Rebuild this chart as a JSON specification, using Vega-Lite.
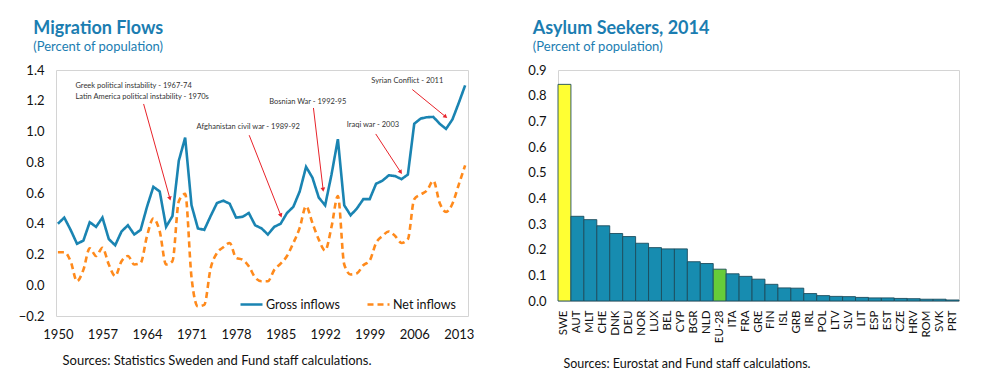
{
  "$schema": "https://vega.github.io/schema/vega-lite/v6.json",
  "padding": {"left": 17, "top": 19, "right": 5, "bottom": 5},
  "background": "white",
  "spacing": 52,
  "resolve": {"scale": {"color": "independent", "strokeDash": "independent"}, "legend": {"color": "independent"}},
  "config": {
    "font": "Lato",
    "view": {"stroke": "#d4d4d4", "strokeWidth": 1},
    "axis": {"labelFont": "Lato", "labelFontSize": 13, "labelColor": "#111", "titleFont": "Lato", "titleFontWeight": "normal", "titleColor": "#111", "grid": false, "ticks": false, "domain": false},
    "title": {"font": "Lato", "anchor": "start", "color": "#1b7db1", "fontSize": 18, "fontWeight": "bold", "subtitleFont": "Lato", "subtitleFontSize": 13, "subtitleColor": "#1b7db1", "subtitlePadding": 3, "offset": 10}
  },
  "hconcat": [
    {
      "width": 412,
      "height": 246,
      "title": {"text": "Migration Flows", "subtitle": "(Percent of population)", "dx": 15},
      "layer": [
        {
          "mark": {"type": "rule", "color": "#b0b0b0", "strokeWidth": 1},
          "encoding": {"y": {"datum": 0, "type": "quantitative", "scale": {"domain": [-0.2, 1.4], "nice": false, "zero": false}}}
        },
        {
          "data": {"name": "flows"},
          "transform": [{"filter": "datum.series === 'Gross inflows'"}],
          "mark": {"type": "line", "strokeWidth": 2.6},
          "encoding": {
            "x": {"field": "year", "type": "quantitative"},
            "y": {"field": "value", "type": "quantitative"},
            "color": {"field": "series", "type": "nominal"},
            "strokeDash": {"field": "series", "type": "nominal"}
          }
        },
        {
          "data": {"name": "flows"},
          "transform": [{"filter": "datum.series === 'Net inflows'"}],
          "mark": {"type": "line", "strokeWidth": 2.6, "interpolate": "monotone"},
          "encoding": {
            "x": {"field": "year", "type": "quantitative"},
            "y": {"field": "value", "type": "quantitative"},
            "color": {"field": "series", "type": "nominal"},
            "strokeDash": {"field": "series", "type": "nominal"}
          }
        },
        {
          "data": {"name": "arrows"},
          "mark": {"type": "rule", "color": "#e8232a", "strokeWidth": 1},
          "encoding": {
            "x": {"field": "x", "type": "quantitative"},
            "y": {"field": "y", "type": "quantitative"},
            "x2": {"field": "x2"},
            "y2": {"field": "y2"}
          }
        },
        {
          "data": {"name": "arrows"},
          "mark": {"type": "point", "shape": "triangle-down", "filled": true, "color": "#e8232a", "size": 22, "opacity": 1},
          "encoding": {
            "x": {"field": "x2", "type": "quantitative"},
            "y": {"field": "y2", "type": "quantitative"},
            "angle": {"field": "event", "type": "nominal", "scale": {"type": "ordinal", "domain": ["Greek", "Afghanistan", "Bosnia", "Iraq", "Syria"], "range": [-15.6, -21.5, -6.8, -33.1, -51.4]}, "legend": null}
          }
        },
        {
          "data": {"name": "notes"},
          "mark": {"type": "text", "align": "left", "baseline": "middle", "font": "Lato", "fontSize": 7.5, "color": "#333"},
          "encoding": {
            "x": {"field": "x", "type": "quantitative"},
            "y": {"field": "y", "type": "quantitative"},
            "text": {"field": "text"}
          }
        }
      ],
      "encoding": {
        "x": {"type": "quantitative", "scale": {"domain": [1949.7, 2014.45], "nice": false, "zero": false},
          "axis": {"values": [1950, 1957, 1964, 1971, 1978, 1985, 1992, 1999, 2006, 2013], "format": "d", "labelPadding": 12, "labelFlush": false,
            "title": "Sources: Statistics Sweden and Fund staff calculations.", "titleX": 6, "titleY": 44, "titleAlign": "left", "titleBaseline": "middle", "titleFontSize": 13}},
        "y": {"type": "quantitative", "scale": {"domain": [-0.2, 1.4], "nice": false, "zero": false},
          "axis": {"values": [-0.2, 0, 0.2, 0.4, 0.6, 0.8, 1.0, 1.2, 1.4], "format": ".1f", "labelPadding": 12, "title": null}},
        "color": {"scale": {"domain": ["Gross inflows", "Net inflows"], "range": ["#1a84b2", "#ff8a1c"]},
          "legend": {"orient": "none", "legendX": 183, "legendY": 222, "direction": "horizontal", "title": null, "symbolType": "stroke", "symbolSize": 484, "symbolStrokeWidth": 2.6, "labelFontSize": 12.5, "labelFont": "Lato", "labelColor": "#111", "columnPadding": 22, "labelOffset": 2}},
        "strokeDash": {"scale": {"domain": ["Gross inflows", "Net inflows"], "range": [[1, 0], [6, 4]]}}
      }
    },
    {
      "width": 401,
      "height": 231,
      "title": {"text": "Asylum Seekers, 2014", "subtitle": "(Percent of population)", "dx": 5},
      "data": {"name": "asylum"},
      "mark": {"type": "bar", "stroke": "#1d4d5e", "strokeWidth": 0.9},
      "encoding": {
        "x": {"field": "country", "type": "nominal", "sort": null,
          "scale": {"paddingInner": 0, "paddingOuter": 0},
          "axis": {"labelAngle": -90, "labelPadding": 9, "labelFontSize": 11.5,
            "title": "Sources: Eurostat and Fund staff calculations.", "titleX": 5, "titleY": 62, "titleAlign": "left", "titleBaseline": "middle", "titleFontSize": 12.5}},
        "y": {"field": "value", "type": "quantitative", "scale": {"domain": [0, 0.9], "nice": false},
          "axis": {"values": [0, 0.1, 0.2, 0.3, 0.4, 0.5, 0.6, 0.7, 0.8, 0.9], "format": ".1f", "labelPadding": 12, "title": null}},
        "color": {"field": "grp", "type": "nominal", "scale": {"domain": ["Sweden", "EU-28", "Country"], "range": ["#ffff33", "#66cc3a", "#178cb0"]}, "legend": null}
      }
    }
  ],
  "datasets": {
    "notes": [
      {"x": 1952.75, "y": 1.294, "text": "Greek political instability - 1967-74"},
      {"x": 1952.75, "y": 1.223, "text": "Latin America political instability - 1970s"},
      {"x": 1971.8, "y": 1.028, "text": "Afghanistan civil war - 1989-92"},
      {"x": 1983.2, "y": 1.192, "text": "Bosnian War - 1992-95"},
      {"x": 1995.4, "y": 1.04, "text": "Iraqi war - 2003"},
      {"x": 1999.26, "y": 1.327, "text": "Syrian Conflict - 2011"}
    ],
    "arrows": [
      {"event": "Greek", "x": 1963.47, "y": 1.179, "x2": 1967.6, "y2": 0.564},
      {"event": "Afghanistan", "x": 1980.06, "y": 0.976, "x2": 1985.04, "y2": 0.453},
      {"event": "Bosnia", "x": 1990.16, "y": 1.153, "x2": 1991.68, "y2": 0.622},
      {"event": "Iraq", "x": 1999.95, "y": 0.984, "x2": 2003.88, "y2": 0.735},
      {"event": "Syria", "x": 2005.7, "y": 1.273, "x2": 2010.94, "y2": 1.096}
    ],
    "asylum": [
      {"country": "SWE", "value": 0.844, "grp": "Sweden"},
      {"country": "AUT", "value": 0.330, "grp": "Country"},
      {"country": "MLT", "value": 0.317, "grp": "Country"},
      {"country": "CHE", "value": 0.293, "grp": "Country"},
      {"country": "DNK", "value": 0.263, "grp": "Country"},
      {"country": "DEU", "value": 0.251, "grp": "Country"},
      {"country": "NOR", "value": 0.225, "grp": "Country"},
      {"country": "LUX", "value": 0.208, "grp": "Country"},
      {"country": "BEL", "value": 0.203, "grp": "Country"},
      {"country": "CYP", "value": 0.203, "grp": "Country"},
      {"country": "BGR", "value": 0.153, "grp": "Country"},
      {"country": "NLD", "value": 0.146, "grp": "Country"},
      {"country": "EU-28", "value": 0.124, "grp": "EU-28"},
      {"country": "ITA", "value": 0.106, "grp": "Country"},
      {"country": "FRA", "value": 0.096, "grp": "Country"},
      {"country": "GRE", "value": 0.085, "grp": "Country"},
      {"country": "FIN", "value": 0.065, "grp": "Country"},
      {"country": "ISL", "value": 0.051, "grp": "Country"},
      {"country": "GRB", "value": 0.050, "grp": "Country"},
      {"country": "IRL", "value": 0.029, "grp": "Country"},
      {"country": "POL", "value": 0.021, "grp": "Country"},
      {"country": "LTV", "value": 0.018, "grp": "Country"},
      {"country": "SLV", "value": 0.017, "grp": "Country"},
      {"country": "LIT", "value": 0.014, "grp": "Country"},
      {"country": "ESP", "value": 0.012, "grp": "Country"},
      {"country": "EST", "value": 0.012, "grp": "Country"},
      {"country": "CZE", "value": 0.010, "grp": "Country"},
      {"country": "HRV", "value": 0.009, "grp": "Country"},
      {"country": "ROM", "value": 0.007, "grp": "Country"},
      {"country": "SVK", "value": 0.007, "grp": "Country"},
      {"country": "PRT", "value": 0.004, "grp": "Country"}
    ],
    "flows": [
      {"year": 1950, "series": "Gross inflows", "value": 0.40},
      {"year": 1951, "series": "Gross inflows", "value": 0.44},
      {"year": 1952, "series": "Gross inflows", "value": 0.36},
      {"year": 1953, "series": "Gross inflows", "value": 0.27},
      {"year": 1954, "series": "Gross inflows", "value": 0.29},
      {"year": 1955, "series": "Gross inflows", "value": 0.41},
      {"year": 1956, "series": "Gross inflows", "value": 0.38},
      {"year": 1957, "series": "Gross inflows", "value": 0.44},
      {"year": 1958, "series": "Gross inflows", "value": 0.30},
      {"year": 1959, "series": "Gross inflows", "value": 0.26},
      {"year": 1960, "series": "Gross inflows", "value": 0.35},
      {"year": 1961, "series": "Gross inflows", "value": 0.39},
      {"year": 1962, "series": "Gross inflows", "value": 0.33},
      {"year": 1963, "series": "Gross inflows", "value": 0.36},
      {"year": 1964, "series": "Gross inflows", "value": 0.51},
      {"year": 1965, "series": "Gross inflows", "value": 0.64},
      {"year": 1966, "series": "Gross inflows", "value": 0.61},
      {"year": 1967, "series": "Gross inflows", "value": 0.38},
      {"year": 1968, "series": "Gross inflows", "value": 0.45},
      {"year": 1969, "series": "Gross inflows", "value": 0.81},
      {"year": 1970, "series": "Gross inflows", "value": 0.96},
      {"year": 1971, "series": "Gross inflows", "value": 0.52},
      {"year": 1972, "series": "Gross inflows", "value": 0.37},
      {"year": 1973, "series": "Gross inflows", "value": 0.36},
      {"year": 1974, "series": "Gross inflows", "value": 0.45},
      {"year": 1975, "series": "Gross inflows", "value": 0.535},
      {"year": 1976, "series": "Gross inflows", "value": 0.55},
      {"year": 1977, "series": "Gross inflows", "value": 0.53},
      {"year": 1978, "series": "Gross inflows", "value": 0.44},
      {"year": 1979, "series": "Gross inflows", "value": 0.445},
      {"year": 1980, "series": "Gross inflows", "value": 0.47},
      {"year": 1981, "series": "Gross inflows", "value": 0.39},
      {"year": 1982, "series": "Gross inflows", "value": 0.37},
      {"year": 1983, "series": "Gross inflows", "value": 0.33},
      {"year": 1984, "series": "Gross inflows", "value": 0.38},
      {"year": 1985, "series": "Gross inflows", "value": 0.40},
      {"year": 1986, "series": "Gross inflows", "value": 0.47},
      {"year": 1987, "series": "Gross inflows", "value": 0.51},
      {"year": 1988, "series": "Gross inflows", "value": 0.61},
      {"year": 1989, "series": "Gross inflows", "value": 0.77},
      {"year": 1990, "series": "Gross inflows", "value": 0.70},
      {"year": 1991, "series": "Gross inflows", "value": 0.57},
      {"year": 1992, "series": "Gross inflows", "value": 0.52},
      {"year": 1993, "series": "Gross inflows", "value": 0.72},
      {"year": 1994, "series": "Gross inflows", "value": 0.95},
      {"year": 1995, "series": "Gross inflows", "value": 0.52},
      {"year": 1996, "series": "Gross inflows", "value": 0.455},
      {"year": 1997, "series": "Gross inflows", "value": 0.50},
      {"year": 1998, "series": "Gross inflows", "value": 0.56},
      {"year": 1999, "series": "Gross inflows", "value": 0.56},
      {"year": 2000, "series": "Gross inflows", "value": 0.66},
      {"year": 2001, "series": "Gross inflows", "value": 0.68},
      {"year": 2002, "series": "Gross inflows", "value": 0.715},
      {"year": 2003, "series": "Gross inflows", "value": 0.71},
      {"year": 2004, "series": "Gross inflows", "value": 0.69},
      {"year": 2005, "series": "Gross inflows", "value": 0.72},
      {"year": 2006, "series": "Gross inflows", "value": 1.05},
      {"year": 2007, "series": "Gross inflows", "value": 1.084},
      {"year": 2008, "series": "Gross inflows", "value": 1.093},
      {"year": 2009, "series": "Gross inflows", "value": 1.095},
      {"year": 2010, "series": "Gross inflows", "value": 1.05},
      {"year": 2011, "series": "Gross inflows", "value": 1.017},
      {"year": 2012, "series": "Gross inflows", "value": 1.078},
      {"year": 2013, "series": "Gross inflows", "value": 1.186},
      {"year": 2014, "series": "Gross inflows", "value": 1.30},
      {"year": 1950, "series": "Net inflows", "value": 0.215},
      {"year": 1951, "series": "Net inflows", "value": 0.215},
      {"year": 1952, "series": "Net inflows", "value": 0.156},
      {"year": 1953, "series": "Net inflows", "value": 0.026},
      {"year": 1954, "series": "Net inflows", "value": 0.10},
      {"year": 1955, "series": "Net inflows", "value": 0.24},
      {"year": 1956, "series": "Net inflows", "value": 0.19},
      {"year": 1957, "series": "Net inflows", "value": 0.243},
      {"year": 1958, "series": "Net inflows", "value": 0.135},
      {"year": 1959, "series": "Net inflows", "value": 0.06},
      {"year": 1960, "series": "Net inflows", "value": 0.156},
      {"year": 1961, "series": "Net inflows", "value": 0.19},
      {"year": 1962, "series": "Net inflows", "value": 0.135},
      {"year": 1963, "series": "Net inflows", "value": 0.145},
      {"year": 1964, "series": "Net inflows", "value": 0.32},
      {"year": 1965, "series": "Net inflows", "value": 0.434},
      {"year": 1966, "series": "Net inflows", "value": 0.35},
      {"year": 1967, "series": "Net inflows", "value": 0.135},
      {"year": 1968, "series": "Net inflows", "value": 0.156},
      {"year": 1969, "series": "Net inflows", "value": 0.546},
      {"year": 1970, "series": "Net inflows", "value": 0.594},
      {"year": 1971, "series": "Net inflows", "value": 0.05},
      {"year": 1972, "series": "Net inflows", "value": -0.137},
      {"year": 1973, "series": "Net inflows", "value": -0.128},
      {"year": 1974, "series": "Net inflows", "value": 0.11},
      {"year": 1975, "series": "Net inflows", "value": 0.21},
      {"year": 1976, "series": "Net inflows", "value": 0.247},
      {"year": 1977, "series": "Net inflows", "value": 0.275},
      {"year": 1978, "series": "Net inflows", "value": 0.178},
      {"year": 1979, "series": "Net inflows", "value": 0.167},
      {"year": 1980, "series": "Net inflows", "value": 0.124},
      {"year": 1981, "series": "Net inflows", "value": 0.05},
      {"year": 1982, "series": "Net inflows", "value": 0.026},
      {"year": 1983, "series": "Net inflows", "value": 0.026},
      {"year": 1984, "series": "Net inflows", "value": 0.10},
      {"year": 1985, "series": "Net inflows", "value": 0.14},
      {"year": 1986, "series": "Net inflows", "value": 0.19},
      {"year": 1987, "series": "Net inflows", "value": 0.275},
      {"year": 1988, "series": "Net inflows", "value": 0.373},
      {"year": 1989, "series": "Net inflows", "value": 0.514},
      {"year": 1990, "series": "Net inflows", "value": 0.405},
      {"year": 1991, "series": "Net inflows", "value": 0.297},
      {"year": 1992, "series": "Net inflows", "value": 0.226},
      {"year": 1993, "series": "Net inflows", "value": 0.38},
      {"year": 1994, "series": "Net inflows", "value": 0.58},
      {"year": 1995, "series": "Net inflows", "value": 0.135},
      {"year": 1996, "series": "Net inflows", "value": 0.07},
      {"year": 1997, "series": "Net inflows", "value": 0.078},
      {"year": 1998, "series": "Net inflows", "value": 0.13},
      {"year": 1999, "series": "Net inflows", "value": 0.16},
      {"year": 2000, "series": "Net inflows", "value": 0.275},
      {"year": 2001, "series": "Net inflows", "value": 0.32},
      {"year": 2002, "series": "Net inflows", "value": 0.35},
      {"year": 2003, "series": "Net inflows", "value": 0.32},
      {"year": 2004, "series": "Net inflows", "value": 0.275},
      {"year": 2005, "series": "Net inflows", "value": 0.30},
      {"year": 2006, "series": "Net inflows", "value": 0.56},
      {"year": 2007, "series": "Net inflows", "value": 0.59},
      {"year": 2008, "series": "Net inflows", "value": 0.616},
      {"year": 2009, "series": "Net inflows", "value": 0.68},
      {"year": 2010, "series": "Net inflows", "value": 0.535},
      {"year": 2011, "series": "Net inflows", "value": 0.477},
      {"year": 2012, "series": "Net inflows", "value": 0.53},
      {"year": 2013, "series": "Net inflows", "value": 0.655},
      {"year": 2014, "series": "Net inflows", "value": 0.78}
    ]
  }
}
